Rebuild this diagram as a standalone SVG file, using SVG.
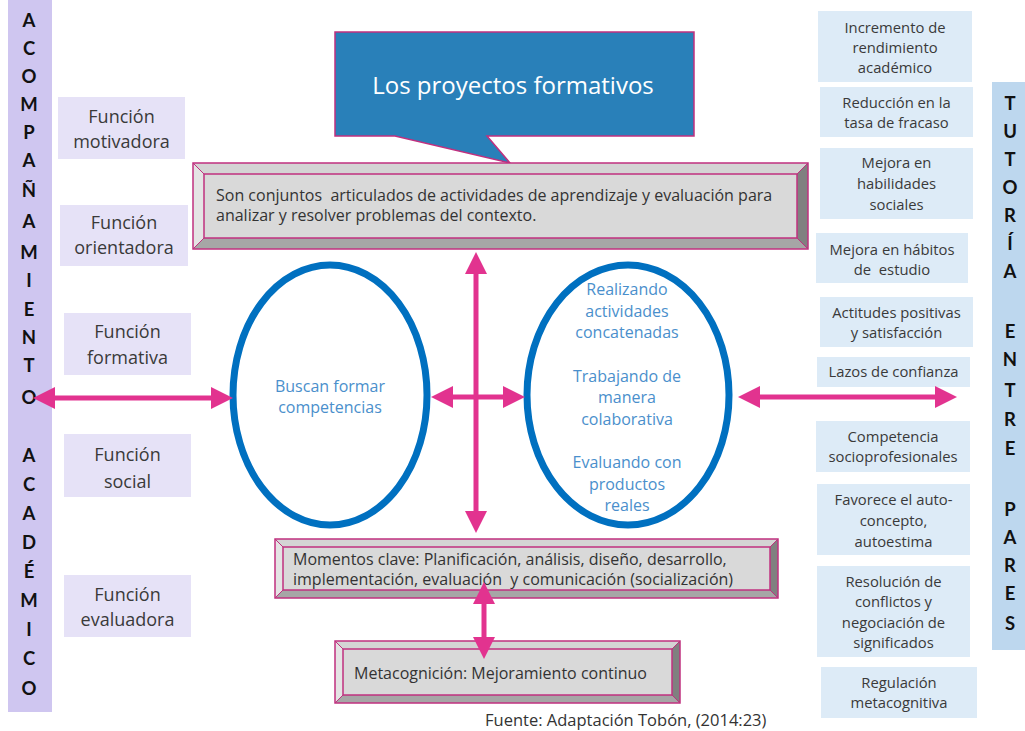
<svg xmlns="http://www.w3.org/2000/svg" width="1025" height="731" viewBox="0 0 1025 731">
<style>
text{font-family:"Open Sans","Liberation Sans",sans-serif;white-space:pre}
.bar text{font-family:Lato,"Liberation Sans",sans-serif;font-weight:bold;font-size:18.5px;fill:#111;text-anchor:middle}
.fn rect{fill:#e6e2f7}
.fn text{font-size:18px;fill:#3a3a3a;text-anchor:middle}
.rb rect{fill:#ddebf7}
.rb text{font-size:14.8px;fill:#3a3a3a;text-anchor:middle}
.ell{fill:#fff;stroke:#0070c0;stroke-width:7}
.et{font-size:16px;fill:#4a8fcc;text-anchor:middle}
.face{fill:#d9d9d9}
.bt{fill:#d4d4d4}.bl{fill:#e4e4e4}.bb{fill:#a6a6a6}.br{fill:#808080}
.bev .ol{fill:none;stroke:#c0307f;stroke-width:1.5}
.bev .ln{stroke:#c0307f;stroke-width:1}
.bx{font-size:16px;fill:#333}
.conn line{stroke:#e2338f;stroke-width:5;marker-start:url(#ah);marker-end:url(#ah)}
</style>
<defs>
<marker id="ah" markerUnits="userSpaceOnUse" viewBox="0 0 22 22" markerWidth="22" markerHeight="22" refX="1" refY="11" orient="auto-start-reverse">
<path d="M0,0 L22,11 L0,22 z" fill="#e2338f"/>
</marker>
</defs>
<rect width="1025" height="731" fill="#fff"/>

<g id="acompanamiento" class="bar">
<rect x="8" y="0" width="44" height="712" fill="#cfc6f0"/>
<text x="29" y="27">A</text><text x="29" y="55">C</text><text x="29" y="83">O</text><text x="29" y="111">M</text><text x="29" y="139">P</text><text x="29" y="167">A</text><text x="29" y="197">Ñ</text><text x="29" y="228">A</text><text x="29" y="259">M</text><text x="29" y="287">I</text><text x="29" y="316">E</text><text x="29" y="344">N</text><text x="29" y="372">T</text><text x="29" y="404">O</text><text x="29" y="462">A</text><text x="29" y="491">C</text><text x="29" y="520">A</text><text x="29" y="549">D</text><text x="29" y="578">É</text><text x="29" y="607">M</text><text x="29" y="636">I</text><text x="29" y="665">C</text><text x="29" y="695">O</text>
</g>

<g id="f-motivadora" class="fn"><rect x="58" y="97" width="127" height="62"/><text x="121.5" y="123">Función</text><text x="121.5" y="148">motivadora</text></g>
<g id="f-orientadora" class="fn"><rect x="60" y="205" width="128" height="61"/><text x="124" y="229">Función</text><text x="124" y="254">orientadora</text></g>
<g id="f-formativa" class="fn"><rect x="64" y="313" width="127" height="62"/><text x="127.5" y="338">Función</text><text x="127.5" y="364">formativa</text></g>
<g id="f-social" class="fn"><rect x="64" y="434" width="127" height="63"/><text x="127.5" y="461">Función</text><text x="127.5" y="488">social</text></g>
<g id="f-evaluadora" class="fn"><rect x="64" y="575" width="127" height="62"/><text x="127.5" y="601">Función</text><text x="127.5" y="626">evaluadora</text></g>

<g id="titulo">
<polygon points="335,32 694,32 694,136 487,136 510,163 395,136 335,136" fill="#2980b9" stroke="#c0307f" stroke-width="1.5"/>
<text x="513" y="94" font-size="24" fill="#fff" text-anchor="middle">Los proyectos formativos</text>
</g>

<g id="definicion" class="bev">
<rect x="193" y="163" width="615" height="86" class="face"/>
<polygon class="bt" points="193,163 808,163 797,174 204,174"/>
<polygon class="bl" points="193,163 204,174 204,238 193,249"/>
<polygon class="bb" points="193,249 204,238 797,238 808,249"/>
<polygon class="br" points="808,163 808,249 797,238 797,174"/>
<rect x="204" y="174" width="593" height="64" class="face"/>
<line class="ln" x1="193" y1="163" x2="204" y2="174"/><line class="ln" x1="808" y1="163" x2="797" y2="174"/><line class="ln" x1="193" y1="249" x2="204" y2="238"/><line class="ln" x1="808" y1="249" x2="797" y2="238"/>
<rect class="ol" x="204" y="174" width="593" height="64"/>
<rect class="ol" x="193" y="163" width="615" height="86"/>
<text class="bx" x="216" y="201">Son conjuntos  articulados de actividades de aprendizaje y evaluación para</text>
<text class="bx" x="216" y="221">analizar y resolver problemas del contexto.</text>
</g>

<g id="buscan">
<ellipse class="ell" cx="330" cy="395" rx="97" ry="130"/>
<text class="et" x="330" y="392">Buscan formar</text>
<text class="et" x="330" y="413">competencias</text>
</g>

<g id="realizando">
<ellipse class="ell" cx="628" cy="395" rx="101" ry="130"/>
<text class="et" x="627" y="295">Realizando</text>
<text class="et" x="627" y="317">actividades</text>
<text class="et" x="627" y="338">concatenadas</text>
<text class="et" x="627" y="382">Trabajando de</text>
<text class="et" x="627" y="403">manera</text>
<text class="et" x="627" y="425">colaborativa</text>
<text class="et" x="627" y="468">Evaluando con</text>
<text class="et" x="627" y="490">productos</text>
<text class="et" x="627" y="511">reales</text>
</g>

<g id="momentos" class="bev">
<rect x="275" y="539" width="503" height="59" class="face"/>
<polygon class="bt" points="275,539 778,539 770,547 283,547"/>
<polygon class="bl" points="275,539 283,547 283,590 275,598"/>
<polygon class="bb" points="275,598 283,590 770,590 778,598"/>
<polygon class="br" points="778,539 778,598 770,590 770,547"/>
<rect x="283" y="547" width="487" height="43" class="face"/>
<line class="ln" x1="275" y1="539" x2="283" y2="547"/><line class="ln" x1="778" y1="539" x2="770" y2="547"/><line class="ln" x1="275" y1="598" x2="283" y2="590"/><line class="ln" x1="778" y1="598" x2="770" y2="590"/>
<rect class="ol" x="283" y="547" width="487" height="43"/>
<rect class="ol" x="275" y="539" width="503" height="59"/>
<text class="bx" x="293" y="565">Momentos clave: Planificación, análisis, diseño, desarrollo,</text>
<text class="bx" x="293" y="585">implementación, evaluación  y comunicación (socialización)</text>
</g>

<g id="metacognicion" class="bev">
<rect x="335" y="641" width="345" height="62" class="face"/>
<polygon class="bt" points="335,641 680,641 672,649 343,649"/>
<polygon class="bl" points="335,641 343,649 343,695 335,703"/>
<polygon class="bb" points="335,703 343,695 672,695 680,703"/>
<polygon class="br" points="680,641 680,703 672,695 672,649"/>
<rect x="343" y="649" width="329" height="46" class="face"/>
<line class="ln" x1="335" y1="641" x2="343" y2="649"/><line class="ln" x1="680" y1="641" x2="672" y2="649"/><line class="ln" x1="335" y1="703" x2="343" y2="695"/><line class="ln" x1="680" y1="703" x2="672" y2="695"/>
<rect class="ol" x="343" y="649" width="329" height="46"/>
<rect class="ol" x="335" y="641" width="345" height="62"/>
<text class="bx" x="354" y="679" font-size="16.5">Metacognición: Mejoramiento continuo</text>
</g>

<g id="r-incremento" class="rb"><rect x="818" y="11" width="154" height="71"/><text x="895" y="33">Incremento de</text><text x="895" y="53">rendimiento</text><text x="895" y="73">académico</text></g>
<g id="r-reduccion" class="rb"><rect x="820" y="87" width="153" height="50"/><text x="896.5" y="108">Reducción en la</text><text x="896.5" y="128">tasa de fracaso</text></g>
<g id="r-habilidades" class="rb"><rect x="820" y="148" width="153" height="71"/><text x="896.5" y="168">Mejora en</text><text x="896.5" y="189">habilidades</text><text x="896.5" y="210">sociales</text></g>
<g id="r-habitos" class="rb"><rect x="816" y="233" width="152" height="50"/><text x="892" y="255">Mejora en hábitos</text><text x="892" y="275">de  estudio</text></g>
<g id="r-actitudes" class="rb"><rect x="820" y="297" width="153" height="50"/><text x="896.5" y="318">Actitudes positivas</text><text x="896.5" y="338">y satisfacción</text></g>
<g id="r-lazos" class="rb"><rect x="817" y="357" width="153" height="30"/><text x="893.5" y="377">Lazos de confianza</text></g>
<g id="r-competencia" class="rb"><rect x="816" y="421" width="154" height="51"/><text x="893" y="442">Competencia</text><text x="893" y="462">socioprofesionales</text></g>
<g id="r-favorece" class="rb"><rect x="817" y="484" width="153" height="71"/><text x="893.5" y="505">Favorece el auto-</text><text x="893.5" y="526">concepto,</text><text x="893.5" y="547">autoestima</text></g>
<g id="r-resolucion" class="rb"><rect x="817" y="566" width="153" height="91"/><text x="893.5" y="587">Resolución de</text><text x="893.5" y="607">conflictos y</text><text x="893.5" y="628">negociación de</text><text x="893.5" y="648">significados</text></g>
<g id="r-regulacion" class="rb"><rect x="821" y="667" width="156" height="51"/><text x="899" y="688">Regulación</text><text x="899" y="708">metacognitiva</text></g>

<g id="tutoria" class="bar">
<rect x="992" y="82" width="33" height="568" fill="#bdd7ee"/>
<text x="1010" y="110">T</text><text x="1010" y="138">U</text><text x="1010" y="166">T</text><text x="1010" y="194">O</text><text x="1010" y="222">R</text><text x="1010" y="250">Í</text><text x="1010" y="278">A</text><text x="1010" y="338">E</text><text x="1010" y="366">N</text><text x="1010" y="397">T</text><text x="1010" y="426">R</text><text x="1010" y="455">E</text><text x="1010" y="516">P</text><text x="1010" y="544">A</text><text x="1010" y="572">R</text><text x="1010" y="600">E</text><text x="1010" y="630">S</text>
</g>

<g id="connectors" class="conn">
<line x1="54" y1="398" x2="212" y2="398"/>
<line x1="452" y1="397" x2="504" y2="397"/>
<line x1="476" y1="273" x2="476" y2="512"/>
<line x1="759" y1="397" x2="936" y2="397"/>
<line x1="484" y1="603" x2="484" y2="638"/>
</g>

<text id="fuente" x="485" y="726" font-size="16.5" fill="#333">Fuente: Adaptación Tobón, (2014:23)</text>
</svg>
